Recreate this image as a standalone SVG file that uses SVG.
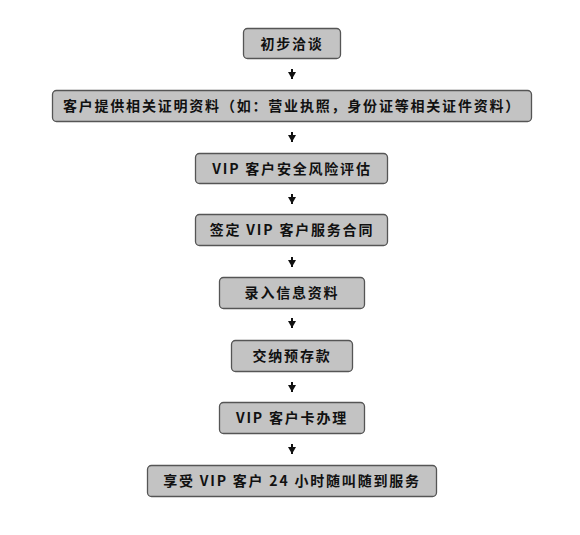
<svg xmlns="http://www.w3.org/2000/svg" width="580" height="535" viewBox="0 0 580 535">
<defs>
<style>
.box rect{fill:#c3c3c3;stroke:#555;stroke-width:1.3}
.box text{font-family:"Noto Sans CJK SC","Noto Sans CJK TC",sans-serif;font-weight:bold;font-size:14px;fill:#111;text-anchor:middle;letter-spacing:1.8px}
.conn line{stroke:#111;stroke-width:2}
</style>
<marker id="ah" viewBox="0 0 7 8" refX="7" refY="4" markerWidth="7" markerHeight="8" markerUnits="userSpaceOnUse" orient="auto">
<path d="M0,0 L7,4 L0,8 Z" fill="#111"/>
</marker>
</defs>
<rect width="580" height="535" fill="#fff"/>
<g id="n1" class="box"><rect x="243.5" y="28.5" width="97" height="30" rx="4"/><text x="292" y="48.5">初步洽谈</text></g>
<g id="n2" class="box"><rect x="52.5" y="90.5" width="479" height="31" rx="4"/><text x="292" y="111">客户提供相关证明资料（如：营业执照，身份证等相关证件资料）</text></g>
<g id="n3" class="box"><rect x="195.5" y="153.5" width="192" height="30" rx="4"/><text x="292" y="173.5">VIP 客户安全风险评估</text></g>
<g id="n4" class="box"><rect x="195.5" y="214.5" width="192" height="31" rx="4"/><text x="292" y="235">签定 VIP 客户服务合同</text></g>
<g id="n5" class="box"><rect x="219.5" y="277.5" width="145" height="31" rx="4"/><text x="292" y="298">录入信息资料</text></g>
<g id="n6" class="box"><rect x="231.5" y="340.5" width="121" height="31" rx="4"/><text x="292" y="361">交纳预存款</text></g>
<g id="n7" class="box"><rect x="219.5" y="402.5" width="145" height="31" rx="4"/><text x="292" y="423">VIP 客户卡办理</text></g>
<g id="n8" class="box"><rect x="147.5" y="465.5" width="289" height="31" rx="4"/><text x="292" y="486">享受 VIP 客户 24 小时随叫随到服务</text></g>
<g id="connectors" class="conn">
<line x1="292" y1="69" x2="292" y2="79" marker-end="url(#ah)"/>
<line x1="292" y1="132" x2="292" y2="142" marker-end="url(#ah)"/>
<line x1="292" y1="194" x2="292" y2="204" marker-end="url(#ah)"/>
<line x1="292" y1="257" x2="292" y2="267" marker-end="url(#ah)"/>
<line x1="292" y1="318" x2="292" y2="328" marker-end="url(#ah)"/>
<line x1="292" y1="382" x2="292" y2="392" marker-end="url(#ah)"/>
<line x1="292" y1="444" x2="292" y2="454" marker-end="url(#ah)"/>
</g>
</svg>
